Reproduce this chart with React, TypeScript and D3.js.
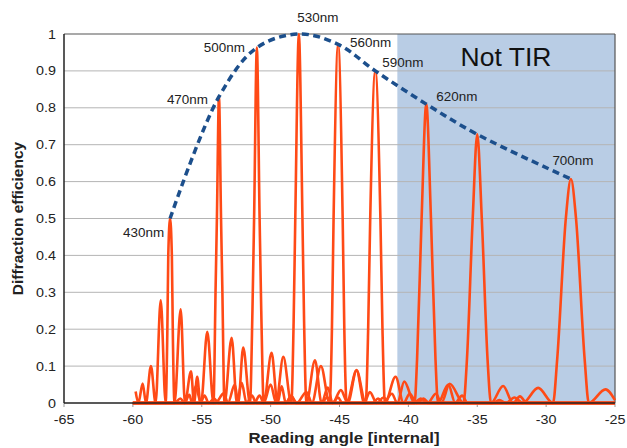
import React from "react";
import * as d3 from "d3";

// ---------- data ----------
const xTicks = [-65, -60, -55, -50, -45, -40, -35, -30, -25];
const yTicks = [0, 0.1, 0.2, 0.3, 0.4, 0.5, 0.6, 0.7, 0.8, 0.9, 1];
const yTickLabels = ["0", "0.1", "0.2", "0.3", "0.4", "0.5", "0.6", "0.7", "0.8", "0.9", "1"];
const wavelengthLabels = ["430nm", "470nm", "500nm", "530nm", "560nm", "590nm", "620nm", "", "700nm"];
const peakAngles = [-57.3, -53.75, -51.0, -47.95, -45.1, -42.4, -38.7, -35.0, -28.2];
const peakHeights = [0.5, 0.83, 0.963, 1.0, 0.972, 0.9, 0.81, 0.728, 0.607];
const notTirStart = -40.8;
const notTirEnd = -25;

type P = [number, number];
const curve430: P[] = [
  [-59.8, 0.031], [-59.6, 0], [-59.29, 0.053], [-59.05, 0], [-58.69, 0.1], [-58.35, 0],
  [-57.98, 0.278], [-57.62, 0], [-57.5, 0.19], [-57.43, 0.4], [-57.3, 0.5], [-57.17, 0.4],
  [-57.1, 0.19], [-56.98, 0], [-56.53, 0.254], [-56.22, 0], [-55.78, 0.086], [-55.56, 0],
  [-55.33, 0.071], [-55.1, 0], [-54.8, 0.02], [-54.5, 0], [-54.1, 0.012], [-53.8, 0], [-25, 0],
];
const curve470: P[] = [
  [-60, 0], [-57.0, 0], [-56.55, 0.012], [-56.25, 0], [-55.9, 0.022], [-55.7, 0], [-55.45, 0.045],
  [-55.05, 0], [-54.6, 0.193], [-54.15, 0], [-53.99, 0.32], [-53.9, 0.5], [-53.75, 0.83],
  [-53.6, 0.5], [-53.51, 0.32], [-53.35, 0], [-52.83, 0.177], [-52.45, 0], [-52.1, 0.055],
  [-51.75, 0], [-51.35, 0.02], [-51.05, 0], [-25, 0],
];
const curve500: P[] = [
  [-60, 0], [-54.0, 0], [-53.4, 0.026], [-53.1, 0], [-52.6, 0.05], [-52.35, 0], [-51.99, 0.15],
  [-51.5, 0], [-51.32, 0.25], [-51.2, 0.5], [-51.0, 0.963], [-50.8, 0.5], [-50.68, 0.25],
  [-50.5, 0], [-49.93, 0.136], [-49.5, 0], [-49.2, 0.045], [-48.9, 0], [-48.5, 0.02],
  [-48.2, 0], [-25, 0],
];
const curve530: P[] = [
  [-60, 0], [-51.2, 0], [-50.8, 0.02], [-50.5, 0], [-50.0, 0.05], [-49.6, 0], [-49.08, 0.125],
  [-48.5, 0], [-48.33, 0.22], [-48.21, 0.5], [-47.95, 1.0], [-47.69, 0.5], [-47.57, 0.22],
  [-47.4, 0], [-46.78, 0.116], [-46.3, 0], [-45.85, 0.042], [-45.5, 0], [-45.1, 0.015],
  [-44.8, 0], [-25, 0],
];
const curve560: P[] = [
  [-60, 0], [-48.9, 0], [-48.5, 0.018], [-48.1, 0], [-47.4, 0.03], [-47.0, 0], [-46.35, 0.1],
  [-45.72, 0], [-45.55, 0.2], [-45.43, 0.5], [-45.1, 0.972], [-44.77, 0.5], [-44.65, 0.2],
  [-44.48, 0], [-43.76, 0.089], [-43.2, 0], [-42.8, 0.03], [-42.3, 0], [-41.8, 0.015],
  [-41.4, 0], [-25, 0],
];
const curve590: P[] = [
  [-60, 0], [-46.3, 0], [-45.9, 0.015], [-45.5, 0], [-44.9, 0.035], [-44.4, 0], [-43.76, 0.088],
  [-43.1, 0], [-42.92, 0.2], [-42.77, 0.5], [-42.4, 0.9], [-42.03, 0.5], [-41.88, 0.2],
  [-41.7, 0], [-40.93, 0.071], [-40.35, 0], [-39.9, 0.025], [-39.4, 0], [-38.9, 0.012],
  [-38.5, 0], [-25, 0],
];
const curve620: P[] = [
  [-60, 0], [-42.6, 0], [-42.2, 0.012], [-41.8, 0], [-41.2, 0.025], [-40.8, 0], [-40.3, 0.058],
  [-39.55, 0], [-39.37, 0.117], [-39.04, 0.5], [-38.7, 0.81], [-38.36, 0.5], [-38.03, 0.117],
  [-37.85, 0], [-37.1, 0.05], [-36.6, 0], [-36.1, 0.02], [-35.7, 0], [-25, 0],
];
const curve650: P[] = [
  [-60, 0], [-39.6, 0], [-39.1, 0.012], [-38.6, 0], [-38.0, 0.025], [-37.6, 0], [-37.0, 0.052],
  [-36.0, 0], [-35.75, 0.117], [-35.33, 0.5], [-35.0, 0.728], [-34.67, 0.5], [-34.25, 0.117],
  [-34.0, 0], [-33.12, 0.046], [-32.4, 0], [-31.9, 0.018], [-31.4, 0], [-25, 0],
];
const curve700: P[] = [
  [-60, 0], [-33.9, 0], [-33.4, 0.008], [-32.9, 0], [-32.3, 0.015], [-31.7, 0], [-30.58, 0.041],
  [-29.5, 0], [-29.2, 0.117], [-28.57, 0.5], [-28.2, 0.607], [-27.83, 0.5], [-27.2, 0.117],
  [-26.9, 0], [-25.69, 0.037], [-25.0, 0.008],
];
const curves = [curve430, curve470, curve500, curve530, curve560, curve590, curve620, curve650, curve700];

// ---------- layout / style ----------
const W = 627;
const H = 448;
const M = { left: 64, right: 615, top: 34, bottom: 403 };
const FONT = "'Liberation Sans', Arial, Helvetica, sans-serif";
const ORANGE = "#ff4a16";
const BLUE_DASH = "#1c4f8c";
const SHADE = "#b9cde5";
const SX = 1.12; // horizontal stretch of text in the reference

const labelPlacement: { dx: number; dy: number; anchor: "start" | "middle" | "end" }[] = [
  { dx: -6, dy: 18, anchor: "end" },
  { dx: -11, dy: 7, anchor: "end" },
  { dx: -12, dy: 4, anchor: "end" },
  { dx: 19, dy: -12, anchor: "middle" },
  { dx: 12, dy: 3, anchor: "start" },
  { dx: 7, dy: -4, anchor: "start" },
  { dx: 10, dy: -3, anchor: "start" },
  { dx: 0, dy: 0, anchor: "start" },
  { dx: 2, dy: -14, anchor: "middle" },
];

function T(props: {
  x: number;
  y: number;
  size: number;
  anchor?: "start" | "middle" | "end";
  weight?: string;
  sx?: number;
  fill?: string;
  children: React.ReactNode;
}) {
  const { x, y, size, anchor = "start", weight = "normal", sx = SX, fill = "#222", children } = props;
  return (
    <text
      transform={`translate(${x},${y}) scale(${sx},1)`}
      textAnchor={anchor}
      fontSize={size}
      fontWeight={weight}
      fill={fill}
    >
      {children}
    </text>
  );
}

export default function App() {
  const x = d3.scaleLinear().domain([-65, -25]).range([M.left, M.right]);
  const y = d3.scaleLinear().domain([0, 1]).range([M.bottom, M.top]);

  const line = d3
    .line<P>()
    .x((d) => x(d[0]))
    .y((d) => y(d[1]))
    .curve(d3.curveMonotoneX);

  const envelopeLine = d3
    .line<P>()
    .x((d) => x(d[0]))
    .y((d) => y(d[1]))
    .curve(d3.curveCatmullRom.alpha(0.5));

  const envelopePts: P[] = peakAngles.map((a, i) => [a, peakHeights[i]]);

  return (
    <svg
      width={W}
      height={H}
      style={{ position: "absolute", left: 0, top: 0, background: "#fff" }}
      fontFamily={FONT}
    >
      {/* Not TIR shading */}
      <rect
        x={x(notTirStart)}
        y={y(1)}
        width={x(notTirEnd) - x(notTirStart)}
        height={y(0) - y(1)}
        fill={SHADE}
      />
      {/* gridlines */}
      {yTicks.slice(1, -1).map((t) => (
        <line key={t} x1={M.left} x2={M.right} y1={y(t)} y2={y(t)} stroke="#b4b4b4" strokeWidth={1} />
      ))}
      {/* frame top/right */}
      <line x1={M.left} x2={M.right} y1={y(1)} y2={y(1)} stroke="#555" strokeWidth={1.2} />
      <line x1={M.right} x2={M.right} y1={y(1)} y2={y(0)} stroke="#555" strokeWidth={1.2} />

      {/* x tick marks */}
      {xTicks.map((t) => (
        <line key={t} x1={x(t)} x2={x(t)} y1={M.bottom} y2={M.bottom + 4} stroke="#999" strokeWidth={1} />
      ))}

      {/* curves */}
      {curves.map((c, i) => (
        <path key={i} d={line(c) || ""} fill="none" stroke={ORANGE} strokeWidth={2.6} strokeLinejoin="round" />
      ))}

      {/* envelope */}
      <path
        d={envelopeLine(envelopePts) || ""}
        fill="none"
        stroke={BLUE_DASH}
        strokeWidth={3.5}
        strokeDasharray="7 4.5"
      />

      {/* axes */}
      <line x1={M.left} x2={M.left} y1={M.top} y2={M.bottom} stroke="#222" strokeWidth={1.5} />
      <line x1={M.left} x2={M.right} y1={M.bottom} y2={M.bottom} stroke="#222" strokeWidth={1.5} />

      {/* y tick labels */}
      {yTicks.map((t, i) => (
        <T key={t} x={56} y={y(t) + 4.5} size={12.8} anchor="end">
          {yTickLabels[i]}
        </T>
      ))}
      {/* x tick labels */}
      {xTicks.map((t) => (
        <T key={t} x={x(t)} y={424} size={12.8} anchor="middle">
          {String(t)}
        </T>
      ))}

      {/* peak labels */}
      {wavelengthLabels.map((lab, i) =>
        lab ? (
          <T
            key={lab}
            x={x(peakAngles[i]) + labelPlacement[i].dx}
            y={y(peakHeights[i]) + labelPlacement[i].dy}
            anchor={labelPlacement[i].anchor}
            size={12}
          >
            {lab}
          </T>
        ) : null
      )}

      {/* Not TIR */}
      <T x={506} y={66} size={25} anchor="middle" sx={1.06} fill="#111">
        Not TIR
      </T>

      {/* axis titles */}
      <T x={344} y={443} size={15} anchor="middle" weight="bold">
        Reading angle [internal]
      </T>
      <text
        transform={`translate(23,${(M.top + M.bottom) / 2}) rotate(-90)`}
        textAnchor="middle"
        fontSize={15.5}
        fontWeight="bold"
        fill="#222"
      >
        Diffraction efficiency
      </text>
    </svg>
  );
}
